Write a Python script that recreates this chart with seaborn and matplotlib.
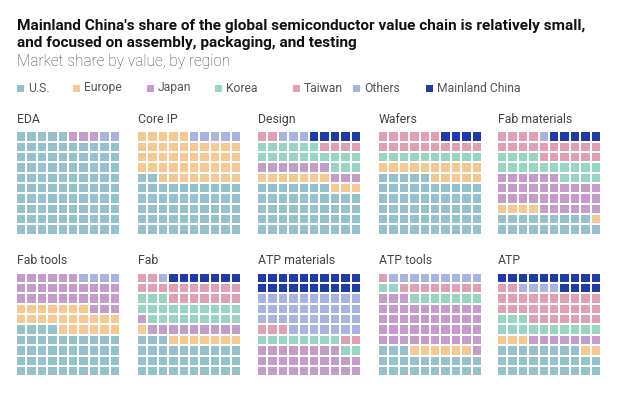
import numpy as np
import matplotlib
matplotlib.use("Agg")
import matplotlib.pyplot as plt
from matplotlib.colors import ListedColormap
import seaborn as sns

regions = ["U.S.", "Europe", "Japan", "Korea", "Taiwan", "Others", "Mainland China"]
colors = ["#94c1cc", "#f6c992", "#c59dca", "#98d5c4", "#e19fb3", "#a9b3e0", "#1f3ba6"]

segments = ["EDA", "Core IP", "Design", "Wafers", "Fab materials",
            "Fab tools", "Fab", "ATP materials", "ATP tools", "ATP"]

# share (cells out of 100) per region, order as in `regions`
eda = [95, 0, 3, 0, 0, 2, 0]
core_ip = [52, 43, 0, 0, 0, 5, 0]
design = [47, 10, 10, 19, 6, 3, 5]
wafers = [55, 15, 0, 10, 16, 0, 4]
fab_materials = [19, 5, 32, 18, 20, 1, 5]
fab_tools = [44, 23, 29, 0, 0, 4, 0]
fab = [33, 8, 10, 22, 19, 1, 7]
atp_materials = [0, 0, 28, 10, 5, 37, 20]
atp_tools = [23, 6, 44, 9, 9, 9, 0]
atp = [28, 5, 7, 13, 29, 4, 14]

shares = [eda, core_ip, design, wafers, fab_materials,
          fab_tools, fab, atp_materials, atp_tools, atp]

W, H = 627, 393
fig = plt.figure(figsize=(W / 100, H / 100), dpi=100)
fig.patch.set_facecolor("white")

def fx(x):
    return x / W

def fy(y):
    return 1 - y / H

def waffle(counts):
    cells = np.repeat(np.arange(len(counts)), counts)
    # fill from bottom-left, row by row, going up
    return cells.reshape(10, 10)[::-1]

cmap = ListedColormap(colors)
col_x = [16, 137, 257, 378, 497]
row_top = [131.3, 272.7]
gw, gh = 104, 103.5

for i, (name, counts) in enumerate(zip(segments, shares)):
    r, c = divmod(i, 5)
    x0, y0 = col_x[c], row_top[r]
    ax = fig.add_axes([fx(x0), fy(y0 + gh), gw / W, gh / H])
    sns.heatmap(waffle(counts), ax=ax, cmap=cmap, vmin=-0.5, vmax=6.5,
                cbar=False, linewidths=1.1, linecolor="white",
                xticklabels=False, yticklabels=False)
    ax.set_xticks([])
    ax.set_yticks([])
    fig.text(fx(x0 + 1), fy(y0 - 8.5), name, fontsize=8.8, color="#444444",
             family="Roboto", va="baseline", ha="left")

# header
fig.text(fx(17), fy(30), "Mainland China's share of the global semiconductor value chain is relatively small,",
         fontsize=11.1, fontweight="bold", family="Roboto", color="#111111", va="baseline")
fig.text(fx(17), fy(47.5), "and focused on assembly, packaging, and testing",
         fontsize=11.1, fontweight="bold", family="Roboto", color="#111111", va="baseline")
fig.text(fx(17), fy(66), "Market share by value, by region",
         fontsize=11.2, family="Roboto", fontweight="light", color="#444444", va="baseline")

# legend
leg_x = [17, 73, 147, 215, 293, 353, 426]
for x, lab, col in zip(leg_x, regions, colors):
    fig.patches.append(plt.Rectangle((fx(x), fy(91.5)), 7 / W, 7 / H,
                                     transform=fig.transFigure, facecolor=col,
                                     edgecolor="none"))
    fig.text(fx(x + 11), fy(88), lab, fontsize=8.7, family="Roboto",
             color="#555555", va="center", ha="left")

fig.savefig("out.png", dpi=100)
